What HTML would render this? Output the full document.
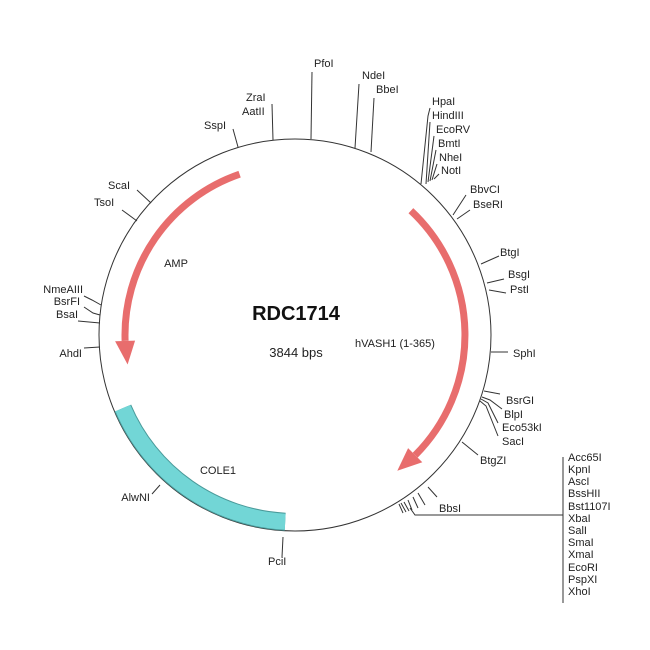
<!DOCTYPE html>
<html><head><style>
body{margin:0;background:#fff;}
svg{display:block;font-family:"Liberation Sans",sans-serif;}
text{font-size:11px;fill:#222;}
</style></head><body>
<svg width="650" height="650" viewBox="0 0 650 650">
<circle cx="295" cy="335" r="196" fill="none" stroke="#333" stroke-width="1"/>
<!-- COLE1 -->
<path d="M122.9 408.1 A187 187 0 0 0 285.2 521.7" fill="none" stroke="#4a9a9a" stroke-width="18"/>
<path d="M122.9 408.1 A187 187 0 0 0 285.2 521.7" fill="none" stroke="#72d6d6" stroke-width="16"/>
<!-- AMP -->
<path d="M239.6 174.2 A170 170 0 0 0 125.1 340.9" fill="none" stroke="#e86d6d" stroke-width="7"/>
<polygon points="135.1,340.6 115.1,341.3 127.6,364.5" fill="#e86d6d"/>
<!-- hVASH1 -->
<path d="M410.9 210.7 A170 170 0 0 1 415.2 455.2" fill="none" stroke="#e86d6d" stroke-width="7"/>
<polygon points="408.1,448.1 422.3,462.3 397.3,470.8" fill="#e86d6d"/>
<g stroke="#333" stroke-width="1" fill="none">
<line x1="312" y1="72" x2="311" y2="139"/>
<line x1="359" y1="84" x2="355" y2="148"/>
<line x1="374" y1="98" x2="371" y2="152"/>
<line x1="272" y1="104" x2="273" y2="140"/>
<line x1="233" y1="129" x2="238" y2="147"/>
<polyline points="430,108 428,116 421,184"/>
<polyline points="430,122 426,184"/>
<polyline points="434,136 428,182"/>
<polyline points="436,150 430,181"/>
<polyline points="437,164 432,180"/>
<polyline points="439,174 434,179"/>
<polyline points="466,195 453,215"/>
<polyline points="470,210 457,219"/>
<line x1="499" y1="256" x2="481" y2="264"/>
<line x1="504" y1="279" x2="487" y2="283"/>
<line x1="506" y1="293" x2="489" y2="290"/>
<line x1="508" y1="352" x2="491" y2="352"/>
<polyline points="500,394 484,391"/>
<polyline points="502,409 490,400 482,397"/>
<polyline points="498,423 488,403 481,399"/>
<polyline points="498,436 486,406 480,401"/>
<line x1="478" y1="455" x2="462" y2="442"/>
<line x1="437" y1="497" x2="428" y2="487"/>
<line x1="425" y1="505" x2="418" y2="493"/>
<line x1="418" y1="508" x2="413" y2="497"/>
<line x1="412" y1="510" x2="408" y2="500"/>
<line x1="409" y1="511" x2="404" y2="502"/>
<line x1="406" y1="512" x2="401" y2="503"/>
<line x1="403" y1="513" x2="399" y2="504"/>
<polyline points="410,508 415,515 563,515"/>
<line x1="563" y1="457" x2="563" y2="603"/>
<line x1="137" y1="190" x2="151" y2="203"/>
<line x1="122" y1="210" x2="137" y2="221"/>
<polyline points="84,296 92,300 101,305"/>
<polyline points="84,307 93,313 100,315"/>
<line x1="78" y1="321" x2="100" y2="323"/>
<line x1="84" y1="348" x2="100" y2="347"/>
<line x1="152" y1="494" x2="160" y2="485"/>
<line x1="283" y1="537" x2="282" y2="557"/>
</g>
<text x="314" y="67">PfoI</text>
<text x="362" y="79">NdeI</text>
<text x="376" y="93">BbeI</text>
<text x="246" y="101">ZraI</text>
<text x="242" y="115">AatII</text>
<text x="204" y="129">SspI</text>
<text x="432" y="105">HpaI</text>
<text x="432" y="119">HindIII</text>
<text x="436" y="133">EcoRV</text>
<text x="438" y="147">BmtI</text>
<text x="439" y="161">NheI</text>
<text x="441" y="174">NotI</text>
<text x="470" y="193">BbvCI</text>
<text x="473" y="208">BseRI</text>
<text x="500" y="256">BtgI</text>
<text x="508" y="278">BsgI</text>
<text x="510" y="293">PstI</text>
<text x="513" y="357">SphI</text>
<text x="506" y="404">BsrGI</text>
<text x="504" y="418">BlpI</text>
<text x="502" y="431">Eco53kI</text>
<text x="502" y="445">SacI</text>
<text x="480" y="464">BtgZI</text>
<text x="439" y="512">BbsI</text>
<g>
<text x="568" y="461">Acc65I</text>
<text x="568" y="473">KpnI</text>
<text x="568" y="485">AscI</text>
<text x="568" y="497">BssHII</text>
<text x="568" y="510">Bst1107I</text>
<text x="568" y="522">XbaI</text>
<text x="568" y="534">SalI</text>
<text x="568" y="546">SmaI</text>
<text x="568" y="558">XmaI</text>
<text x="568" y="571">EcoRI</text>
<text x="568" y="583">PspXI</text>
<text x="568" y="595">XhoI</text>
</g>
<text x="108" y="189">ScaI</text>
<text x="94" y="206">TsoI</text>
<text x="83" y="293" text-anchor="end">NmeAIII</text>
<text x="80" y="305" text-anchor="end">BsrFI</text>
<text x="78" y="318" text-anchor="end">BsaI</text>
<text x="82" y="357" text-anchor="end">AhdI</text>
<text x="150" y="501" text-anchor="end">AlwNI</text>
<text x="268" y="565">PciI</text>
<text x="296" y="320" text-anchor="middle" style="font-size:20px;font-weight:bold;fill:#111">RDC1714</text>
<text x="296" y="357" text-anchor="middle" style="font-size:13px">3844 bps</text>
<text x="176" y="267" text-anchor="middle">AMP</text>
<text x="395" y="347" text-anchor="middle">hVASH1 (1-365)</text>
<text x="218" y="474" text-anchor="middle">COLE1</text>
</svg>
</body></html>
